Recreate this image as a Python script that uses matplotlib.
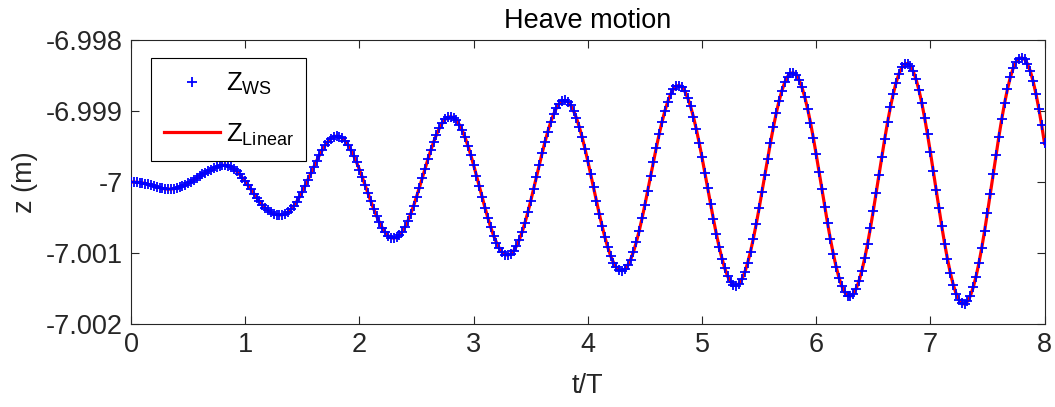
import numpy as np
import matplotlib
matplotlib.use("Agg")
import matplotlib.pyplot as plt
from matplotlib.ticker import FuncFormatter, FixedLocator

plt.rcParams['font.family'] = ['Liberation Sans', 'DejaVu Sans']
plt.rcParams['mathtext.fontset'] = 'custom'
plt.rcParams['mathtext.rm'] = 'Liberation Sans'
plt.rcParams['mathtext.it'] = 'Liberation Sans'

# ---------------- text ----------------
title = "Heave motion"
x_label = "t/T"
y_label = "z (m)"
label_ws = r"$\mathregular{Z_{WS}}$"
label_linear = r"$\mathregular{Z_{Linear}}$"
x_ticks = [0, 1, 2, 3, 4, 5, 6, 7, 8]
y_ticks = [-7.002, -7.001, -7.0, -6.999, -6.998]
x_range = (0, 8)
y_range = (-7.002, -6.998)

# ---------------- data ----------------
# time axis: t/T from 0 to 8, sampled every 0.025 T (321 samples)
t_start, t_end, n_samples = 0.0, 8.0, 321
z_ref = -7.0  # m, still-water position

# heave offset from z_ref, in mm (1e-3 m)
dz_start = [0.000, -0.001, -0.003, -0.007, -0.013, -0.021, -0.031, -0.042,
            -0.055, -0.067, -0.080, -0.090, -0.097, -0.100, -0.099, -0.094,
            -0.085, -0.072, -0.056, -0.037, -0.016, 0.007, 0.031, 0.056,
            0.081, 0.106, 0.130, 0.152, 0.175, 0.195, 0.212, 0.226]
dz_first_drop = [0.235, 0.238, 0.229, 0.211, 0.184, 0.150, 0.108, 0.060,
                 0.008, -0.048, -0.105, -0.163, -0.219, -0.272, -0.321, -0.364,
                 -0.400, -0.428, -0.448, -0.458]
dz_period1 = [-0.463, -0.462, -0.448, -0.423, -0.385, -0.337, -0.278, -0.210,
              -0.134, -0.051, 0.035, 0.123, 0.211, 0.297, 0.378, 0.452,
              0.517, 0.570, 0.610, 0.636, 0.647, 0.639, 0.616, 0.577,
              0.522, 0.452, 0.370, 0.278]
dz_period2 = [0.176, 0.067, -0.045, -0.159, -0.271, -0.378, -0.478, -0.568,
              -0.645, -0.708, -0.754, -0.783, -0.791, -0.780, -0.749, -0.699,
              -0.631, -0.546, -0.446, -0.333, -0.210, -0.080, 0.054, 0.188,
              0.321, 0.446, 0.563, 0.668, 0.757, 0.829, 0.881, 0.912,
              0.920, 0.906, 0.868, 0.808, 0.727, 0.628, 0.512, 0.382]
dz_period3 = [0.240, 0.091, -0.061, -0.214, -0.364, -0.506, -0.637, -0.754,
              -0.853, -0.932, -0.989, -1.022, -1.030, -1.013, -0.971, -0.904,
              -0.814, -0.702, -0.572, -0.426, -0.269, -0.102, 0.069, 0.239,
              0.406, 0.565, 0.711, 0.842, 0.952, 1.041, 1.104, 1.141,
              1.150, 1.129, 1.080, 1.004, 0.903, 0.778, 0.633, 0.471]
dz_period4 = [0.296, 0.113, -0.075, -0.263, -0.446, -0.619, -0.779, -0.920,
              -1.040, -1.135, -1.203, -1.242, -1.249, -1.228, -1.174, -1.092,
              -0.982, -0.846, -0.689, -0.513, -0.322, -0.123, 0.082, 0.286,
              0.485, 0.674, 0.847, 1.001, 1.131, 1.235, 1.309, 1.351,
              1.359, 1.334, 1.276, 1.185, 1.065, 0.917, 0.746, 0.555]
dz_period5 = [0.349, 0.132, -0.089, -0.309, -0.523, -0.726, -0.913, -1.078,
              -1.217, -1.328, -1.406, -1.451, -1.459, -1.431, -1.367, -1.269,
              -1.139, -0.980, -0.796, -0.592, -0.372, -0.141, 0.094, 0.328,
              0.556, 0.771, 0.968, 1.142, 1.288, 1.404, 1.486, 1.531,
              1.538, 1.508, 1.439, 1.336, 1.198, 1.031, 0.837, 0.622]
dz_period6 = [0.390, 0.148, -0.099, -0.345, -0.583, -0.808, -1.013, -1.196,
              -1.348, -1.469, -1.554, -1.601, -1.608, -1.575, -1.503, -1.394,
              -1.251, -1.075, -0.873, -0.648, -0.407, -0.154, 0.103, 0.359,
              0.606, 0.840, 1.054, 1.242, 1.401, 1.525, 1.613, 1.661,
              1.668, 1.633, 1.558, 1.444, 1.295, 1.113, 0.903, 0.670]
dz_period7 = [0.421, 0.159, -0.107, -0.370, -0.626, -0.867, -1.087, -1.281,
              -1.445, -1.572, -1.662, -1.710, -1.718, -1.681, -1.603, -1.485,
              -1.331, -1.143, -0.927, -0.687, -0.431, -0.163, 0.109, 0.379,
              0.640, 0.886, 1.110, 1.307, 1.473, 1.602, 1.693, 1.737,
              1.750, 1.729, 1.666, 1.562, 1.418, 1.240, 1.031, 0.797]
dz_end = [0.543]

dz_mm = np.concatenate([dz_start, dz_first_drop, dz_period1, dz_period2,
                        dz_period3, dz_period4, dz_period5, dz_period6,
                        dz_period7, dz_end])
t_over_T = np.linspace(t_start, t_end, n_samples)
z_linear = z_ref + dz_mm * 1e-3
z_ws = z_ref + dz_mm * 1e-3   # both solutions coincide in the picture

# ---------------- figure ----------------
axis_color = '#262626'
fs = 19.5

fig = plt.figure(figsize=(10.55, 4.07), dpi=100)
ax = fig.add_axes([0.1242, 0.2039, 0.8659, 0.6978])

h_lin, = ax.plot(t_over_T, z_linear, color='red', linewidth=2.3, zorder=2)
h_ws, = ax.plot(t_over_T, z_ws, linestyle='none', marker='+', markersize=7.5,
                markeredgewidth=1.3, color='blue', zorder=3)

ax.set_xlim(*x_range)
ax.set_ylim(*y_range)
ax.xaxis.set_major_locator(FixedLocator(x_ticks))
ax.yaxis.set_major_locator(FixedLocator(y_ticks))
ax.yaxis.set_major_formatter(FuncFormatter(lambda v, p: '{:g}'.format(round(v, 6))))
ax.xaxis.set_major_formatter(FuncFormatter(lambda v, p: '{:g}'.format(v)))

for s in ax.spines.values():
    s.set_color(axis_color)
    s.set_linewidth(0.8)
ax.tick_params(axis='both', which='major', direction='in', length=5.5, width=0.8,
               color=axis_color, labelcolor=axis_color, labelsize=fs,
               top=True, right=True)
ax.tick_params(axis='x', pad=6)
ax.tick_params(axis='y', pad=6)

ax.set_title(title, fontsize=fs, color='black', pad=9)
ax.set_xlabel(x_label, fontsize=fs, color=axis_color)
ax.set_ylabel(y_label, fontsize=fs, color=axis_color)
ax.xaxis.set_label_coords(0.5, -0.172)
ax.yaxis.set_label_coords(-0.102, 0.5)

leg = ax.legend([h_ws, h_lin], [label_ws, label_linear], loc='upper left',
                bbox_to_anchor=(0.0219, 0.9366), borderaxespad=0,
                fontsize=18.5, fancybox=False, framealpha=1, edgecolor='black',
                handlelength=2.2, handletextpad=0.2, borderpad=0.5,
                labelspacing=0.95, numpoints=1)
leg.get_frame().set_linewidth(0.8)

fig.savefig('out.png', dpi=100)
